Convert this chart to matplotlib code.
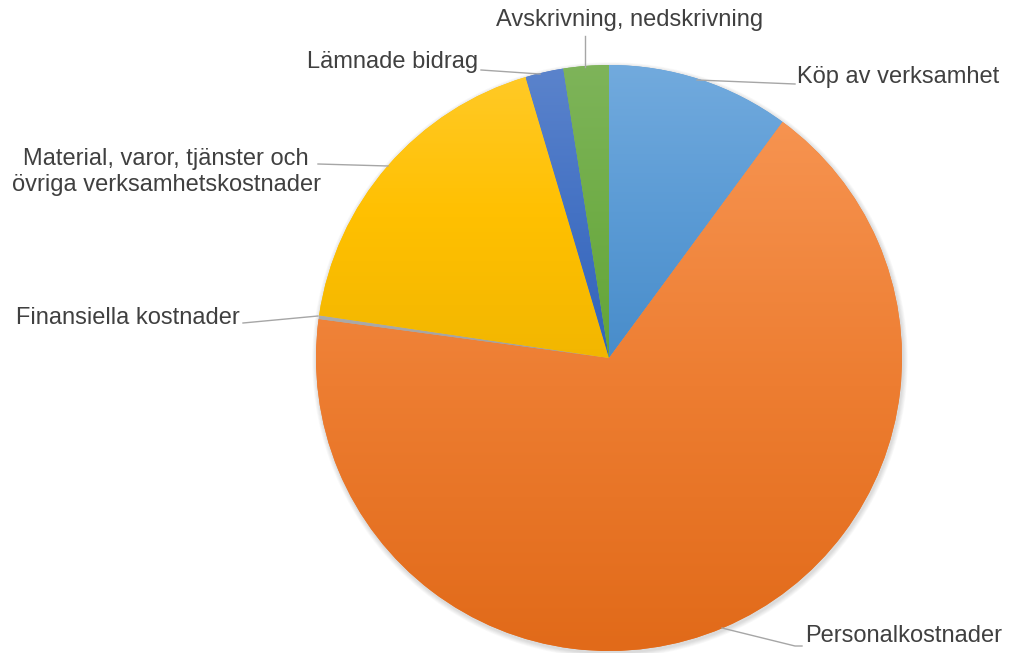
import numpy as np
import matplotlib
matplotlib.use("Agg")
import matplotlib.pyplot as plt
from matplotlib.colors import to_rgb, rgb_to_hsv, hsv_to_rgb
from matplotlib.patches import Circle

categories = ["Köp av verksamhet", "Personalkostnader", "Finansiella kostnader",
              "Material, varor, tjänster och\növriga verksamhetskostnader",
              "Lämnade bidrag", "Avskrivning, nedskrivning"]
values = [10.1, 67.1, 0.2, 18.1, 2.1, 2.5]
colors = ["#5B9BD5", "#ED7D31", "#A5A5A5", "#FFC000", "#4472C4", "#70AD47"]

W, H = 1009, 653
fig = plt.figure(figsize=(W / 100, H / 100), dpi=100)
ax = fig.add_axes([0, 0, 1, 1])

cx, cy, r = 609, H - 358, 293

# soft shadow
for k in range(6, 0, -1):
    ax.add_patch(Circle((cx + 1, cy - 2), r + k * 0.8, color="black",
                        alpha=0.025, lw=0, zorder=1))

wedges, _ = ax.pie(values, startangle=90, counterclock=False, radius=r,
                   center=(cx, cy), colors=colors, frame=True,
                   wedgeprops=dict(linewidth=0, zorder=2))
ax.set_aspect("equal")


def adj(rgb, s_mul, v_mul):
    h = rgb_to_hsv(np.array(rgb))
    h[1] = min(1, h[1] * s_mul)
    h[2] = min(1, h[2] * v_mul)
    return hsv_to_rgb(h)


n = 256
t = np.linspace(0, 1, n)  # 0 top -> 1 bottom
for w, c in zip(wedges, colors):
    base = np.array(to_rgb(c))
    top = adj(base, 0.85, 1.04)
    bot = adj(base, 1.12, 0.95)
    img = np.empty((n, 2, 3))
    for i, tv in enumerate(t):
        if tv < 0.5:
            f = tv / 0.5
            col = top * (1 - f) + base * f
        else:
            f = (tv - 0.5) / 0.5
            col = base * (1 - f) + bot * f
        img[i, :, :] = col
    ext = w.get_path().get_extents()
    im = ax.imshow(img, extent=(ext.x0, ext.x1, ext.y0, ext.y1), origin="upper",
                   interpolation="bilinear", zorder=3, aspect="auto")
    im.set_clip_path(w)

ax.set_xlim(0, W)
ax.set_ylim(0, H)
ax.axis("off")

tc = "#404040"
lc = "#A6A6A6"
fs = 17
font = ["Liberation Sans", "DejaVu Sans"]


def y(v):
    return H - v


ax.text(797, y(77), categories[0], ha="left", va="center", color=tc, fontsize=fs, family=font)
ax.plot([697, 795], [y(80), y(84)], color=lc, lw=1, zorder=4)

ax.text(805, y(636), categories[1], ha="left", va="center", color=tc, fontsize=fs, family=font)
ax.plot([722, 795, 802], [y(628), y(646), y(646)], color=lc, lw=1, zorder=4)

ax.text(240, y(318), categories[2], ha="right", va="center", color=tc, fontsize=fs, family=font)
ax.plot([243, 318], [y(323), y(316)], color=lc, lw=1, zorder=4)

ax.text(166, y(172), categories[3], ha="center", va="center", color=tc, fontsize=fs,
        family=font, linespacing=1.27, multialignment="center")
ax.plot([318, 388], [y(164), y(166)], color=lc, lw=1, zorder=4)

ax.text(478, y(62), categories[4], ha="right", va="center", color=tc, fontsize=fs, family=font)
ax.plot([481, 540], [y(70), y(74)], color=lc, lw=1, zorder=4)

ax.text(630, y(20), categories[5], ha="center", va="center", color=tc, fontsize=fs, family=font)
ax.plot([585, 585], [y(36), y(67)], color=lc, lw=1, zorder=4)

fig.savefig("out.png", dpi=100)
